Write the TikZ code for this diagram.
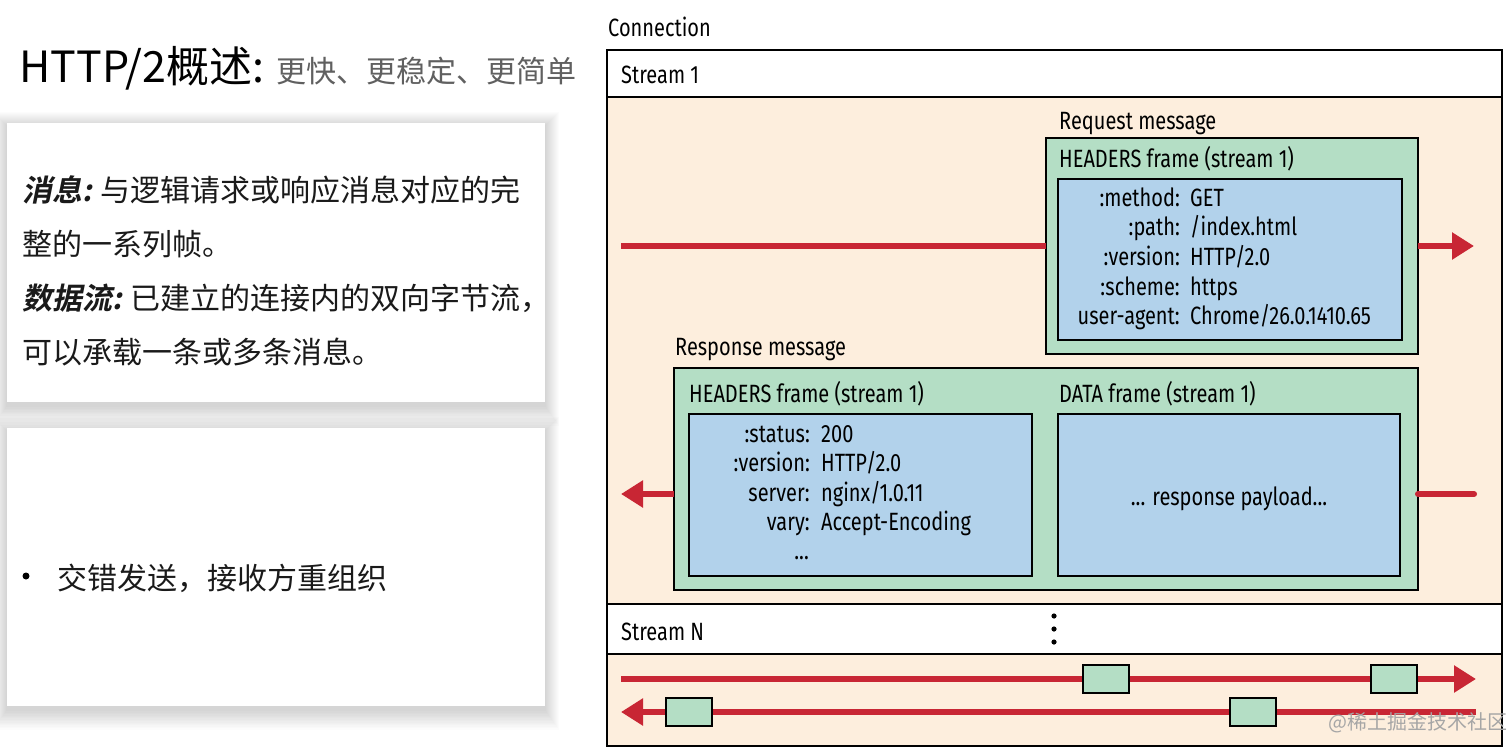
\documentclass[tikz,border=0pt]{standalone}
\usepackage{fontspec}
\usetikzlibrary{arrows.meta}
\newfontfamily\cjk{Noto Sans CJK SC}
\newfontfamily\cjkbi[FakeSlant=0.2]{Noto Sans CJK SC Bold}
\newfontfamily\cond[FakeStretch=0.8]{Fira Sans}
\definecolor{peach}{HTML}{FDEEDD}
\definecolor{frgreen}{HTML}{B4DEC5}
\definecolor{frblue}{HTML}{B2D2EB}
\definecolor{arrred}{HTML}{C82634}
\definecolor{subgray}{HTML}{606060}
\definecolor{txt}{HTML}{1A1A1A}
\begin{document}
\begin{tikzpicture}[x=1pt,y=-1pt,
  frameline/.style={draw=black, line width=2.8pt},
  lbl/.style={font=\cond\fontsize{25}{30}\selectfont, inner sep=0, anchor=base west},
  keylbl/.style={lbl, anchor=base east},
  redline/.style={draw=arrred, line width=6pt},
  redarrow/.style={redline, -{Triangle[length=22pt,width=26pt]}},
  greenbox/.style={draw=black, line width=2.8pt, fill=frgreen, anchor=north west, inner sep=0, outer sep=0},
  bluebox/.style={draw=black, line width=2.8pt, fill=frblue, anchor=north west, inner sep=0, outer sep=0},
  cjktext/.style={font=\cjk\fontsize{30}{36}\selectfont, text=txt, inner sep=0, anchor=base west},
  card/.style={fill=white, draw=none}
]
\useasboundingbox (0,0) rectangle (1512,755);
\fill[white] (0,0) rectangle (1512,755);

% ---------- left side: shadows and cards ----------
\foreach \i in {1,...,14} {
  \fill[black, opacity=0.013] (7-\i,123-\i+3) rectangle (545+\i,402+1.4*\i+4);
  \fill[black, opacity=0.013] (7-\i,428-\i+3) rectangle (545+\i,706+1.4*\i+4);
}
\fill[card] (7,123) rectangle (545,402);
\fill[card] (7,428) rectangle (545,706);

\node[inner sep=0, anchor=base west, font=\cjk\fontsize{43}{50}\selectfont, text=black] (title) at (19,82) {HTTP/2概述:};
\node[inner sep=0, anchor=base west, font=\cjk\fontsize{30}{36}\selectfont, text=subgray] (subtitle) at ([xshift=12pt]title.base east) {更快、更稳定、更简单};

\node[cjktext] (m1) at (22,201) {{\cjkbi 消息:} 与逻辑请求或响应消息对应的完};
\node[cjktext] (m2) at (22,255) {整的一系列帧。};
\node[cjktext] (m3) at (22,309) {{\cjkbi 数据流:} 已建立的连接内的双向字节流，};
\node[cjktext] (m4) at (22,363) {可以承载一条或多条消息。};
\node[circle, fill=black, inner sep=0, minimum size=7pt] (bul) at (26,576) {};
\node[cjktext] (m5) at (57,589) {交错发送，接收方重组织};

% ---------- right side: connection diagram ----------
\node[lbl] (conn) at (608,36) {Connection};

\fill[white] (607,50) rectangle (1502,97);
\fill[peach] (607,97) rectangle (1502,604);
\fill[white] (607,604) rectangle (1502,654);
\fill[peach] (607,654) rectangle (1502,746);
\draw[frameline] (607,97) -- (1502,97);
\draw[frameline] (607,604) -- (1502,604);
\draw[frameline] (607,654) -- (1502,654);
\draw[frameline] (607,50) rectangle (1502,746);

\node[lbl] (s1) at (621,83) {Stream 1};
\node[lbl] (sN) at (621,640) {Stream N};

% request message
\node[lbl] (reqlbl) at (1059,129) {Request message};
\node[greenbox, minimum width=372pt, minimum height=216pt] (req) at (1046,138) {};
\node[lbl] (reqhdr) at (1059,167) {HEADERS frame (stream 1)};
\node[bluebox, minimum width=344pt, minimum height=161pt] (reqblue) at (1058,179) {};
\foreach \k/\v/\y [count=\n] in {:method:/GET/206, :path:/{/index.html}/235, :version:/{HTTP/2.0}/265, :scheme:/https/295, user-agent:/{Chrome/26.0.1410.65}/324} {
  \node[keylbl] (rk\n) at (1180,\y) {\k};
  \node[lbl] (rv\n) at (1190,\y) {\v};
}
\coordinate (q1) at (621,246);
\coordinate (q2) at (1474,246);
\draw[redline] (q1) -- (req.west |- q1);
\draw[redarrow] (req.east |- q2) -- (q2);

% response message
\node[lbl] (resplbl) at (675,355) {Response message};
\node[greenbox, minimum width=744pt, minimum height=222pt] (resp) at (674,368) {};
\node[lbl] (resphdr) at (689,402) {HEADERS frame (stream 1)};
\node[lbl] (respdata) at (1059,402) {DATA frame (stream 1)};
\node[bluebox, minimum width=343pt, minimum height=162pt] (hblue) at (689,414) {};
\node[bluebox, minimum width=342pt, minimum height=162pt] (dblue) at (1058,414) {};
\foreach \k/\v/\y [count=\n] in {:status:/200/442, :version:/{HTTP/2.0}/471, server:/{nginx/1.0.11}/501, vary:/{Accept-Encoding}/530} {
  \node[keylbl] (sk\n) at (810,\y) {\k};
  \node[lbl] (sv\n) at (821,\y) {\v};
}
\node[keylbl] (sdots) at (809,559) {...};
\node[lbl, anchor=base] (payload) at (1229,505) {... response payload...};
\coordinate (p1) at (621,494);
\coordinate (p2) at (1474,494);
\draw[redarrow] (resp.west |- p1) -- (p1);
\draw[redline, line cap=round] (resp.east |- p2) -- (p2);

% vertical dots
\foreach \y [count=\n] in {616,629,642} {
  \fill (1054,\y) circle[radius=2.6pt];
}

% stream N arrows and frames
\coordinate (a1) at (621,679);
\coordinate (a2) at (1476,679);
\coordinate (b1) at (1476,712);
\coordinate (b2) at (621,712);
\draw[redarrow] (a1) -- (a2);
\draw[redarrow] (b1) -- (b2);
\node[greenbox, minimum width=46pt, minimum height=28pt] (f1) at (1083,665) {};
\node[greenbox, minimum width=46pt, minimum height=28pt] (f2) at (1371,665) {};
\node[greenbox, minimum width=46pt, minimum height=28pt] (f3) at (666,698) {};
\node[greenbox, minimum width=46pt, minimum height=28pt] (f4) at (1230,698) {};

\node[inner sep=0, anchor=base east, font=\cjk\fontsize{20}{24}\selectfont, text=black!35] (wm) at (1508,729) {@稀土掘金技术社区};
\end{tikzpicture}
\end{document}
